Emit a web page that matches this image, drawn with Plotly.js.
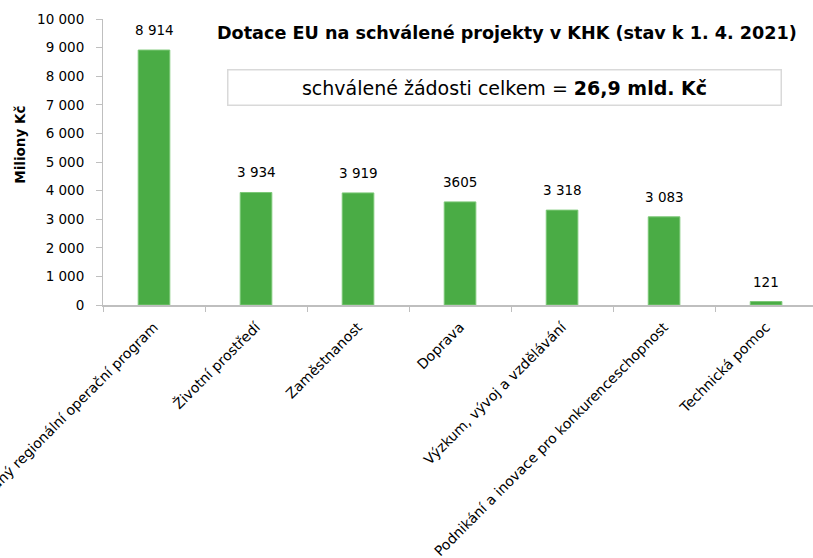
<!DOCTYPE html>
<html>
<head>
<meta charset="utf-8">
<script src="https://cdn.plot.ly/plotly-3.0.1.min.js"></script>
<style>html,body{margin:0;padding:0;background:#fff;overflow:hidden;}</style>
</head>
<body>
<div id="chart" style="width:813px;height:558px;"></div>
<script>
const categories = [
  "Integrovaný regionální operační program",
  "Životní prostředí",
  "Zaměstnanost",
  "Doprava",
  "Výzkum, vývoj a vzdělávání",
  "Podnikání a inovace pro konkurenceschopnost",
  "Technická pomoc"
];
const values = [8914, 3934, 3919, 3605, 3318, 3083, 121];
const valueLabels = ["8 914", "3 934", "3 919", "3605", "3 318", "3 083", "121"];
const yTicks = [0, 1000, 2000, 3000, 4000, 5000, 6000, 7000, 8000, 9000, 10000];
const titleText = "Dotace EU na schválené projekty v KHK (stav k 1. 4. 2021)";
const boxText = "schválené žádosti celkem = <b>26,9 mld. Kč</b>";
const yTitle = "Miliony Kč";

const FONT = "DejaVu Sans, sans-serif";

const trace = {
  type: "bar",
  x: categories,
  y: values,
  width: 0.31,
  marker: {color: "#4aac45", line: {color: "#7cc877", width: 1}},
  hoverinfo: "none"
};

const labelAnnotations = categories.map((c, i) => ({
  x: c, y: values[i], xref: "x", yref: "y",
  text: valueLabels[i], showarrow: false,
  yanchor: "bottom", yshift: 10,
  font: {family: FONT, size: 13.5, color: "#000"}
}));

const layout = {
  width: 813, height: 558,
  margin: {l: 103, r: 0, t: 19, b: 253},
  paper_bgcolor: "#fff", plot_bgcolor: "#fff",
  separators: ", ",
  showlegend: false,
  font: {family: FONT, color: "#000"},
  xaxis: {
    type: "category",
    range: [-0.5, 6.46],
    tickangle: -45,
    tickson: "boundaries",
    ticks: "outside", ticklen: 5, tickcolor: "#bfbfbf",
    showline: true, linecolor: "#bfbfbf", linewidth: 1.5,
    showgrid: false, zeroline: false,
    ticklabelstandoff: 7,
    tickfont: {family: FONT, size: 14, color: "#000"}
  },
  yaxis: {
    range: [0, 10000],
    tickvals: yTicks,
    tickformat: ",d",
    ticks: "outside", ticklen: 6, tickcolor: "#bfbfbf",
    showline: true, linecolor: "#bfbfbf", linewidth: 1,
    showgrid: false, zeroline: false,
    ticklabelstandoff: 9,
    tickfont: {family: FONT, size: 13.5, color: "#000"}
  },
  annotations: [
    {
      xref: "paper", yref: "paper", x: 0.569, y: 0.951,
      xanchor: "center", yanchor: "middle", showarrow: false,
      text: "<b>" + titleText + "</b>",
      font: {family: FONT, size: 17.6, color: "#000"}
    },
    {
      xref: "paper", yref: "paper", x: 0.566, y: 0.759,
      xanchor: "center", yanchor: "middle", showarrow: false,
      text: boxText,
      width: 548, height: 30,
      bordercolor: "#d9d9d9", borderwidth: 1.5, borderpad: 2,
      bgcolor: "#fff",
      font: {family: FONT, size: 19, color: "#000"}
    },
    {
      xref: "paper", yref: "paper", x: -0.117, y: 0.56,
      xanchor: "center", yanchor: "middle", showarrow: false,
      textangle: -90,
      text: "<b>" + yTitle + "</b>",
      font: {family: FONT, size: 13.5, color: "#000"}
    }
  ].concat(labelAnnotations)
};

Plotly.newPlot("chart", [trace], layout, {displayModeBar: false, staticPlot: true});
</script>
</body>
</html>
